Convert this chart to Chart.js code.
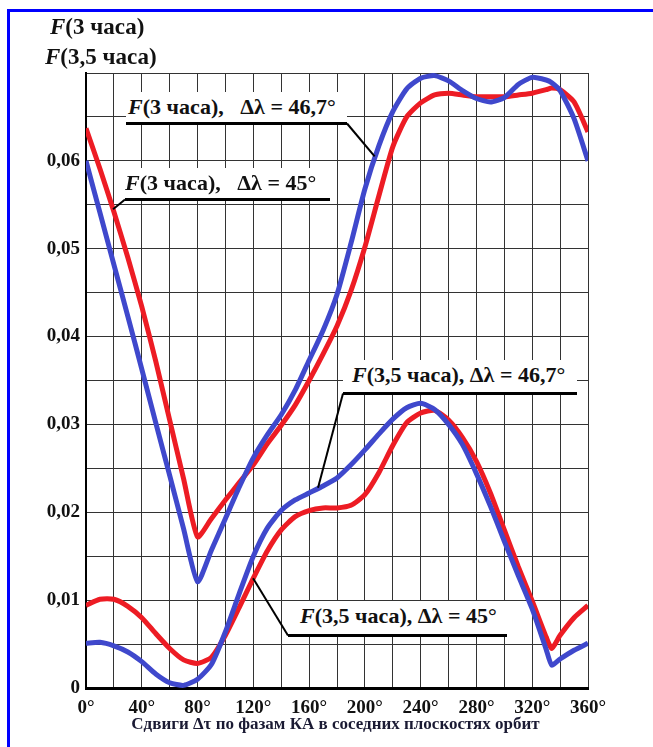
<!DOCTYPE html>
<html>
<head>
<meta charset="utf-8">
<script src="https://cdn.jsdelivr.net/npm/chart.js@4.4.0/dist/chart.umd.min.js"></script>
<style>
  body { margin: 0; background: #fff; }
  #wrap { position: relative; width: 653px; height: 747px; overflow: hidden;
          font-family: "Liberation Serif", "DejaVu Serif", "Noto Serif", serif; font-weight: bold; color: #111; }
  #frame { position: absolute; left: 7px; top: 9px; right: -10px; bottom: -10px;
           border-top: 3px solid #0000ff; border-left: 3px solid #0000ff; }
  canvas { position: absolute; left: 0; top: 0; }
  .ttl { position: absolute; font-size: 23px; line-height: 26px; white-space: nowrap; }
  .lbl { position: absolute; background: #fff; border-bottom: 3px solid #000; font-size: 22px;
         height: 30px; line-height: 30px; white-space: pre; }
  #xtitle { position: absolute; left: 0; width: 671px; top: 714px; text-align: center;
            font-size: 17px; line-height: 20px; color: #1a1a33; white-space: nowrap; }
</style>
</head>
<body>
<div id="wrap">
  <div id="frame"></div>
  <canvas id="chart" width="653" height="747"></canvas>
  <div class="ttl" style="left:50px;top:14px"><i>F</i>(3 часа)</div>
  <div class="ttl" style="left:45px;top:44px"><i>F</i>(3,5 часа)</div>
  <div class="lbl" id="lab1" style="left:126px;top:92px;width:219px;padding-left:2px"><i>F</i>(3 часа),   Δλ = 46,7°</div>
  <div class="lbl" id="lab2" style="left:125px;top:168px;width:205px"><i>F</i>(3 часа),   Δλ = 45°</div>
  <div class="lbl" id="lab3" style="left:343px;top:360px;width:225px;padding-left:9px;padding-bottom:2px"><i>F</i>(3,5 часа), Δλ = 46,7°</div>
  <div class="lbl" id="lab4" style="left:288px;top:601px;width:207px;padding-left:12px;padding-bottom:3px"><i>F</i>(3,5 часа), Δλ = 45°</div>
  <div id="xtitle">Сдвиги Δτ по фазам КА в соседних плоскостях орбит</div>
</div>
<script>
// phase shift, degrees
const angles = [0, 10, 20, 30, 40, 50, 60, 70, 80, 90, 100, 110, 120, 130, 140, 150, 160, 170, 180,
                190, 200, 210, 220, 230, 240, 250, 260, 270, 280, 290, 300, 310, 320, 330, 334, 340, 350, 360];

// F(3 часа), Δλ = 45°  (red)
const f3_45 = [0.0637, 0.0591, 0.0542, 0.0490, 0.0434, 0.0372, 0.0305, 0.0238, 0.0172, 0.0193,
               0.0214, 0.0234, 0.0254, 0.0278, 0.0299, 0.0322, 0.0350, 0.0380, 0.0412, 0.0452,
               0.0502, 0.0560, 0.0616, 0.0650, 0.0666, 0.0675, 0.0677, 0.0675, 0.0673, 0.0673,
               0.0673, 0.0675, 0.0677, 0.0681, 0.0683, 0.0681, 0.0667, 0.0633];

// F(3 часа), Δλ = 46,7°  (blue)
const f3_467 = [0.0600, 0.0541, 0.0482, 0.0423, 0.0363, 0.0302, 0.0242, 0.0181, 0.0121, 0.0157,
                0.0193, 0.0229, 0.0262, 0.0288, 0.0311, 0.0339, 0.0373, 0.0407, 0.0448, 0.0506,
                0.0568, 0.0617, 0.0656, 0.0682, 0.0694, 0.0697, 0.0691, 0.0680, 0.0671, 0.0667,
                0.0672, 0.0687, 0.0695, 0.0692, 0.0689, 0.0680, 0.0648, 0.0600];

// F(3,5 часа), Δλ = 45°  (red)
const f35_45 = [0.0094, 0.0101, 0.0101, 0.0093, 0.0080, 0.0062, 0.0045, 0.0032, 0.0028, 0.0035,
                0.0060, 0.0092, 0.0125, 0.0156, 0.0180, 0.0195, 0.0202, 0.0205, 0.0205, 0.0208,
                0.0220, 0.0245, 0.0276, 0.0302, 0.0313, 0.0316, 0.0305, 0.0285, 0.0258, 0.0222,
                0.0180, 0.0138, 0.0099, 0.0058, 0.0045, 0.0060, 0.0080, 0.0094];

// F(3,5 часа), Δλ = 46,7°  (blue)
const f35_467 = [0.0051, 0.0052, 0.0048, 0.0041, 0.0030, 0.0016, 0.0006, 0.0003, 0.0010, 0.0027,
                 0.0064, 0.0108, 0.0150, 0.0182, 0.0202, 0.0214, 0.0222, 0.0230, 0.0239, 0.0254,
                 0.0271, 0.0289, 0.0306, 0.0319, 0.0324, 0.0317, 0.0300, 0.0277, 0.0244, 0.0207,
                 0.0167, 0.0128, 0.0090, 0.0044, 0.0026, 0.0033, 0.0043, 0.0051];

const xTickLabels = ['0°', '40°', '80°', '120°', '160°', '200°', '240°', '280°', '320°', '360°'];
const yTickLabels = ['0', '0,01', '0,02', '0,03', '0,04', '0,05', '0,06'];

const RED = '#ed1c24';
const BLUE = '#3f48cc';

// leader lines: from a corner of a label box to a point on its curve (deg, value)
const leaders = [
  { id: 'lab1', corner: 'right', deg: 207,   val: 0.0605 },
  { id: 'lab2', corner: 'left',  deg: 19.4,  val: 0.0545 },
  { id: 'lab3', corner: 'left',  deg: 166.4, val: 0.0228 },
  { id: 'lab4', corner: 'left',  deg: 119.8, val: 0.0125 }
];

function toPoints(vals) {
  return angles.map((a, i) => ({ x: a, y: vals[i] }));
}

function series(label, vals, color, order) {
  return {
    label,
    data: toPoints(vals),
    borderColor: color,
    borderWidth: 5,
    pointRadius: 0,
    tension: 0.2,
    fill: false,
    order
  };
}

const leaderPlugin = {
  id: 'leaders',
  afterDatasetsDraw(chart) {
    const { ctx, scales: { x, y } } = chart;
    ctx.save();
    ctx.strokeStyle = '#000';
    ctx.lineWidth = 2;
    leaders.forEach(l => {
      const el = document.getElementById(l.id);
      const bx = l.corner === 'right' ? el.offsetLeft + el.offsetWidth : el.offsetLeft;
      const by = el.offsetTop + el.offsetHeight - 1.5;
      ctx.beginPath();
      ctx.moveTo(bx, by);
      ctx.lineTo(x.getPixelForValue(l.deg), y.getPixelForValue(l.val));
      ctx.stroke();
    });
    ctx.restore();
  }
};

const tickFont = { family: '"Liberation Serif", "DejaVu Serif", serif', size: 19, weight: 'bold' };

new Chart(document.getElementById('chart'), {
  type: 'line',
  data: {
    datasets: [
      series('F(3 часа), Δλ = 46,7°', f3_467, BLUE, 0),
      series('F(3,5 часа), Δλ = 46,7°', f35_467, BLUE, 0),
      series('F(3 часа), Δλ = 45°', f3_45, RED, 1),
      series('F(3,5 часа), Δλ = 45°', f35_45, RED, 1)
    ]
  },
  options: {
    responsive: false,
    animation: false,
    devicePixelRatio: 1,
    layout: { padding: { left: 0, top: 73, right: 65, bottom: 0 } },
    plugins: { legend: { display: false }, tooltip: { enabled: false } },
    scales: {
      x: {
        type: 'linear', min: 0, max: 360,
        afterFit: s => { s.height = 59; },
        grid: { color: '#333', lineWidth: 1, drawTicks: false },
        border: { color: '#000', width: 3 },
        ticks: {
          stepSize: 20, autoSkip: false, maxRotation: 0, padding: 9,
          color: '#111', font: tickFont,
          callback: v => (v % 40 === 0 ? xTickLabels[v / 40] : '')
        }
      },
      y: {
        type: 'linear', min: 0, max: 0.07,
        afterFit: s => { s.width = 86; },
        grid: { color: '#333', lineWidth: 1, drawTicks: false },
        border: { color: '#000', width: 2 },
        ticks: {
          stepSize: 0.005, autoSkip: false, padding: 6,
          color: '#111', font: tickFont,
          callback: v => {
            const k = Math.round(v * 1000);
            return k % 10 === 0 && yTickLabels[k / 10] !== undefined ? yTickLabels[k / 10] : '';
          }
        }
      }
    }
  },
  plugins: [leaderPlugin]
});
</script>
</body>
</html>
